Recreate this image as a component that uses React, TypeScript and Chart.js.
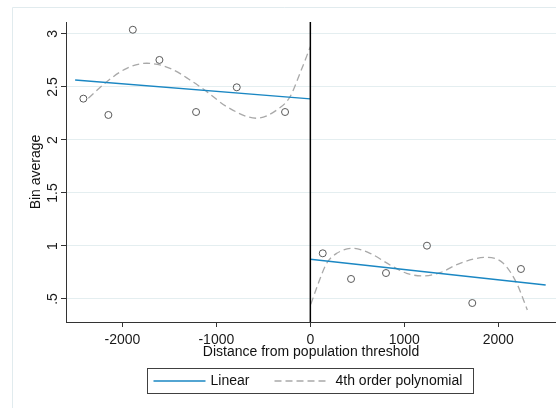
import React, { useEffect, useRef } from 'react';
import { Chart, registerables } from 'chart.js';

Chart.register(...registerables);

// ---- data ----
const leftBinX = [-2415, -2149, -1889, -1606, -1216, -783, -269];
const leftBinY = [2.39, 2.236, 3.04, 2.755, 2.264, 2.497, 2.264];
const rightBinX = [132, 433, 805, 1241, 1723, 2241];
const rightBinY = [0.931, 0.689, 0.745, 1.003, 0.462, 0.783];

const leftLinearX = [-2503, 0];
const leftLinearY = [2.566, 2.387];
const rightLinearX = [0, 2504];
const rightLinearY = [0.875, 0.632];

const leftPolyX = [-2362, -2166, -1953, -1740, -1493, -1280, -1102, -889, -570, -357, -216, -110, 0];
const leftPolyY = [2.393, 2.55, 2.676, 2.724, 2.676, 2.566, 2.456, 2.314, 2.205, 2.283, 2.408, 2.63, 2.88];
const rightPolyX = [5, 85, 174, 281, 457, 635, 848, 1025, 1202, 1380, 1593, 1876, 2053, 2196, 2309];
const rightPolyY = [0.45, 0.648, 0.837, 0.931, 0.978, 0.931, 0.821, 0.742, 0.717, 0.748, 0.837, 0.893, 0.837, 0.648, 0.396];

const thresholdX = 0;
const xTicks = [-2000, -1000, 0, 1000, 2000];
const xTickLabels = ['-2000', '-1000', '0', '1000', '2000'];
const yTicks = [0.5, 1, 1.5, 2, 2.5, 3];
const yTickLabels = ['.5', '1', '1.5', '2', '2.5', '3'];
const xMin = -2600;
const xMax = 2614;
const yMin = 0.283;
const yMax = 3.113;
const xTitle = 'Distance from population threshold';
const yTitle = 'Bin average';
const legendLabels = ['Linear', '4th order polynomial'];

const FONT = '"Liberation Sans", Arial, Helvetica, sans-serif';
const BLUE = '#1a87c3';
const GREY = '#a9a9a9';

const zip = (xs: number[], ys: number[]) => xs.map((x, i) => ({ x, y: ys[i] }));

const framePlugin = {
  id: 'frame',
  beforeDraw(chart: any) {
    const ctx = chart.ctx;
    ctx.save();
    ctx.fillStyle = '#ffffff';
    ctx.fillRect(0, 0, chart.width, chart.height);
    ctx.strokeStyle = '#e1ebee';
    ctx.lineWidth = 1;
    ctx.beginPath();
    ctx.moveTo(12.5, chart.height);
    ctx.lineTo(12.5, 7.5);
    ctx.lineTo(chart.width, 7.5);
    ctx.stroke();
    ctx.restore();
  },
};

const legendPlugin = {
  id: 'customLegend',
  afterDraw(chart: any) {
    const ctx = chart.ctx;
    ctx.save();
    const left = 147.5;
    const top = 368.5;
    const w = 326;
    const h = 25;
    const cy = top + h / 2;
    ctx.strokeStyle = '#404040';
    ctx.lineWidth = 1;
    ctx.strokeRect(left, top, w, h);
    ctx.font = '14px ' + FONT;
    ctx.textBaseline = 'middle';
    ctx.fillStyle = '#111';
    // item 1
    ctx.strokeStyle = BLUE;
    ctx.lineWidth = 1.3;
    ctx.beginPath();
    ctx.moveTo(left + 6, cy);
    ctx.lineTo(left + 58, cy);
    ctx.stroke();
    ctx.fillText(legendLabels[0], left + 63, cy + 0.5);
    // item 2
    ctx.strokeStyle = GREY;
    ctx.setLineDash([7, 4]);
    ctx.beginPath();
    ctx.moveTo(left + 127, cy);
    ctx.lineTo(left + 179, cy);
    ctx.stroke();
    ctx.setLineDash([]);
    ctx.fillText(legendLabels[1], left + 188, cy + 0.5);
    ctx.restore();
  },
};

export default function App() {
  const ref = useRef<HTMLCanvasElement | null>(null);

  useEffect(() => {
    if (!ref.current) return;
    const chart = new Chart(ref.current, {
      type: 'scatter',
      data: {
        datasets: [
          {
            label: 'threshold',
            data: [{ x: thresholdX, y: yMin }, { x: thresholdX, y: yMax }],
            showLine: true,
            borderColor: '#000000',
            borderWidth: 1.5,
            pointRadius: 0,
          },
          {
            label: 'bins left',
            data: zip(leftBinX, leftBinY),
            showLine: false,
            pointRadius: 3.5,
            pointBorderWidth: 1,
            pointBorderColor: '#5a5a5a',
            pointBackgroundColor: 'rgba(0,0,0,0)',
          },
          {
            label: 'bins right',
            data: zip(rightBinX, rightBinY),
            showLine: false,
            pointRadius: 3.5,
            pointBorderWidth: 1,
            pointBorderColor: '#5a5a5a',
            pointBackgroundColor: 'rgba(0,0,0,0)',
          },
          {
            label: legendLabels[0],
            data: zip(leftLinearX, leftLinearY),
            showLine: true,
            borderColor: BLUE,
            borderWidth: 1.3,
            pointRadius: 0,
          },
          {
            label: legendLabels[0] + ' right',
            data: zip(rightLinearX, rightLinearY),
            showLine: true,
            borderColor: BLUE,
            borderWidth: 1.3,
            pointRadius: 0,
          },
          {
            label: legendLabels[1],
            data: zip(leftPolyX, leftPolyY),
            showLine: true,
            borderColor: GREY,
            borderWidth: 1.3,
            borderDash: [7, 4],
            cubicInterpolationMode: 'monotone',
            pointRadius: 0,
          },
          {
            label: legendLabels[1] + ' right',
            data: zip(rightPolyX, rightPolyY),
            showLine: true,
            borderColor: GREY,
            borderWidth: 1.3,
            borderDash: [7, 4],
            cubicInterpolationMode: 'monotone',
            pointRadius: 0,
          },
        ],
      },
      options: {
        animation: false,
        responsive: false,
        maintainAspectRatio: false,
        layout: { autoPadding: false, padding: { left: 0, right: 0, top: 22, bottom: 46 } },
        plugins: {
          legend: { display: false },
          tooltip: { enabled: false },
        },
        scales: {
          x: {
            type: 'linear',
            min: xMin,
            max: xMax,
            afterBuildTicks: (s: any) => {
              s.ticks = xTicks.map((v) => ({ value: v }));
            },
            afterFit: (s: any) => {
              s.height = 40;
            },
            ticks: {
              autoSkip: false,
              maxRotation: 0,
              padding: 5,
              color: '#1a1a1a',
              font: { family: FONT, size: 14 },
              callback: (v: any) => {
                const i = xTicks.indexOf(Number(v));
                return i >= 0 ? xTickLabels[i] : '';
              },
            },
            grid: {
              drawOnChartArea: false,
              drawTicks: true,
              tickLength: 5,
              tickColor: '#333333',
            },
            border: { color: '#333333', width: 1 },
            title: {
              display: true,
              text: xTitle,
              color: '#111',
              font: { family: FONT, size: 14 },
              padding: { top: 0, bottom: 1 },
            },
          },
          y: {
            type: 'linear',
            min: yMin,
            max: yMax,
            afterBuildTicks: (s: any) => {
              s.ticks = yTicks.map((v) => ({ value: v }));
            },
            afterFit: (s: any) => {
              s.width = 66;
            },
            ticks: {
              autoSkip: false,
              minRotation: 90,
              maxRotation: 90,
              crossAlign: 'center',
              padding: -2,
              color: '#1a1a1a',
              font: { family: FONT, size: 14 },
              callback: (v: any) => {
                const i = yTicks.indexOf(Number(v));
                return i >= 0 ? yTickLabels[i] : '';
              },
            },
            grid: {
              color: '#e4eef0',
              lineWidth: 1,
              tickLength: 5,
              tickColor: '#333333',
            },
            border: { color: '#333333', width: 1 },
            title: {
              display: true,
              text: yTitle,
              color: '#111',
              font: { family: FONT, size: 14 },
              padding: { top: 28, bottom: 0 },
            },
          },
        },
      } as any,
      plugins: [framePlugin, legendPlugin],
    });
    return () => chart.destroy();
  }, []);

  return (
    <div style={{ position: 'absolute', left: 0, top: 0, width: 556, height: 408 }}>
      <canvas ref={ref} width={556} height={408} style={{ display: 'block' }} />
    </div>
  );
}
